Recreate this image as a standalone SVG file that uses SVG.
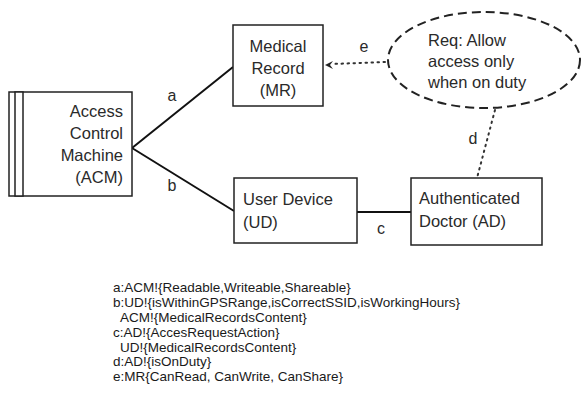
<svg xmlns="http://www.w3.org/2000/svg" width="581" height="405" viewBox="0 0 581 405">
<defs>
<style>
.box{fill:#fff;stroke:#222;stroke-width:1.5}
.t{font-family:"Liberation Sans",Arial,sans-serif;font-size:16.5px;fill:#2a2a2a}
.lbl{font-family:"Liberation Sans",Arial,sans-serif;font-size:16px;fill:#2a2a2a}
.note{font-family:"Liberation Sans",Arial,sans-serif;font-size:13.5px;fill:#1a1a1a}
.ln{stroke:#111;stroke-width:2;fill:none}
.dot{stroke:#333;stroke-width:2;fill:none;stroke-dasharray:1.5 4.5;stroke-linecap:round}
</style>
</defs>
<rect width="581" height="405" fill="#fff"/>
<g id="connectors">
<line class="ln" x1="132" y1="148" x2="233" y2="67"/>
<line class="ln" x1="132" y1="148" x2="234" y2="211"/>
<line class="ln" x1="357" y1="212" x2="411" y2="212"/>
<line class="dot" x1="385" y1="62" x2="332" y2="64"/>
<path d="M325,65 L333,61 L330,65 L333,69 Z" fill="#222"/>
<line class="dot" x1="495" y1="110" x2="477" y2="178"/>
<text class="lbl" x="172" y="101" text-anchor="middle">a</text>
<text class="lbl" x="172" y="191" text-anchor="middle">b</text>
<text class="lbl" x="381" y="234" text-anchor="middle">c</text>
<text class="lbl" x="473" y="144" text-anchor="middle">d</text>
<text class="lbl" x="364" y="52" text-anchor="middle">e</text>
</g>
<g id="ACM">
<rect class="box" x="9" y="92" width="123" height="104"/>
<rect class="box" x="15" y="92" width="8" height="104"/>
<text class="t" text-anchor="end"><tspan x="123" y="117">Access</tspan><tspan x="123" y="139">Control</tspan><tspan x="123" y="161">Machine</tspan><tspan x="123" y="183">(ACM)</tspan></text>
</g>
<g id="MR">
<rect class="box" x="233" y="25" width="90" height="81"/>
<text class="t" text-anchor="middle"><tspan x="278" y="52">Medical</tspan><tspan x="278" y="74">Record</tspan><tspan x="278" y="96">(MR)</tspan></text>
</g>
<g id="UD">
<rect class="box" x="234" y="178" width="123" height="65"/>
<text class="t"><tspan x="243" y="205">User Device</tspan><tspan x="243" y="228">(UD)</tspan></text>
</g>
<g id="AD">
<rect class="box" x="411" y="178" width="131" height="67"/>
<text class="t"><tspan x="419" y="204">Authenticated</tspan><tspan x="419" y="227">Doctor (AD)</tspan></text>
</g>
<g id="Req">
<ellipse cx="484" cy="60" rx="96" ry="48" fill="#fff" stroke="#222" stroke-width="2" stroke-dasharray="9 5"/>
<text class="t"><tspan x="428" y="46">Req: Allow</tspan><tspan x="428" y="67">access only</tspan><tspan x="428" y="88">when on duty</tspan></text>
</g>
<g id="notes">
<text class="note"><tspan x="113" y="292">a:ACM!{Readable,Writeable,Shareable}</tspan><tspan x="113" y="307">b:UD!{isWithinGPSRange,isCorrectSSID,isWorkingHours}</tspan><tspan x="120" y="322">ACM!{MedicalRecordsContent}</tspan><tspan x="113" y="337">c:AD!{AccesRequestAction}</tspan><tspan x="120" y="352">UD!{MedicalRecordsContent}</tspan><tspan x="113" y="366">d:AD!{isOnDuty}</tspan><tspan x="113" y="381">e:MR{CanRead, CanWrite, CanShare}</tspan></text>
</g>
</svg>
